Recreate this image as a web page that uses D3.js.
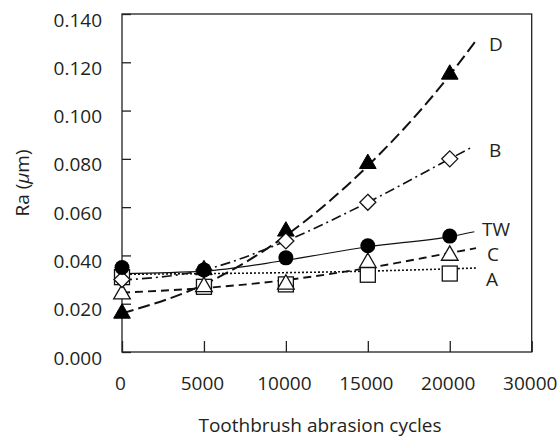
<!DOCTYPE html>
<html>
<head>
<meta charset="utf-8">
<script src="https://cdn.jsdelivr.net/npm/d3@7"></script>
<style>
  html, body { margin: 0; padding: 0; background: #fff; }
  svg { display: block; }
  text { font-family: "Open Sans", "Noto Sans", sans-serif; fill: #231f20; }
</style>
</head>
<body>
<svg id="chart" width="559" height="438"></svg>
<script>
// ---- data ----
const xTickValues = [0, 5000, 10000, 15000, 20000, 25000];
const xTickLabels = ["0", "5000", "10000", "15000", "20000", "30000"];
const yTickValues = [0, 0.02, 0.04, 0.06, 0.08, 0.10, 0.12, 0.14];
const yTickLabels = ["0.000", "0.020", "0.040", "0.060", "0.080", "0.100", "0.120", "0.140"];

const cycles = [0, 5000, 10000, 15000, 20000];
const seriesTW = [0.035, 0.034, 0.039, 0.044, 0.048];
const seriesA  = [0.031, 0.027, 0.028, 0.032, 0.0325];
const seriesB  = [0.030, 0.034, 0.046, 0.062, 0.080];
const seriesC  = [0.024, 0.027, 0.028, 0.037, 0.040];
const seriesD  = [0.016, 0.034, 0.050, 0.078, 0.115];

// trend curves: [cycles, Ra]
const trendTW = [[0, 0.0325], [5000, 0.0335], [10000, 0.0380], [15000, 0.0436], [20000, 0.0478], [21500, 0.0498]];
const trendA  = [[0, 0.0322], [15000, 0.0335], [21700, 0.0348]];
const trendB  = [[0, 0.0298], [5000, 0.0340], [10000, 0.0460], [15000, 0.0620], [20000, 0.0800], [21400, 0.0850]];
const trendC  = [[0, 0.0246], [5000, 0.0265], [10000, 0.0298], [15000, 0.0348], [20000, 0.0410], [21600, 0.0430]];
const trendD  = [[0, 0.0160], [5000, 0.0280], [10000, 0.0482], [15000, 0.0771], [20000, 0.1147], [21600, 0.1290]];

const labels = [
  { name: "D",  at: [0.1275], x: 489 },
  { name: "B",  at: [0.0835], x: 489 },
  { name: "TW", at: [0.0508], x: 482 },
  { name: "C",  at: [0.0405], x: 487 },
  { name: "A",  at: [0.0300], x: 486 }
];

// ---- layout ----
const svg = d3.select("#chart");
const x = d3.scaleLinear().domain([0, 25000]).range([122, 531.7]);
const y = d3.scaleLinear().domain([0, 0.14]).range([352, 14]);
const ink = "#231f20";
const fs = "19px";

// trend lines
const line = d3.line().x(d => x(d[0])).y(d => y(d[1])).curve(d3.curveMonotoneX);
const trends = [
  { data: trendA,  dash: "2,2",          w: 1.6 },
  { data: trendC,  dash: "8,5",          w: 1.9 },
  { data: trendB,  dash: "10,4,2,4",     w: 1.6 },
  { data: trendD,  dash: "12,5",         w: 2.0 },
  { data: trendTW, dash: null,           w: 1.2 }
];
trends.forEach(t => {
  svg.append("path")
    .attr("d", line(t.data))
    .attr("fill", "none")
    .attr("stroke", "#111")
    .attr("stroke-width", t.w)
    .attr("stroke-dasharray", t.dash);
});

// frame
svg.append("rect")
  .attr("x", x(0)).attr("y", y(0.14))
  .attr("width", x(25000) - x(0)).attr("height", y(0) - y(0.14))
  .attr("fill", "none").attr("stroke", ink).attr("stroke-width", 1.3);

// y axis (ticks inward)
const yAxis = d3.axisRight(y).tickValues(yTickValues).tickSize(9)
  .tickFormat((d, i) => yTickLabels[i]);
const gy = svg.append("g").attr("transform", `translate(${x(0)},0)`).call(yAxis);
gy.select(".domain").remove();
gy.selectAll(".tick line").attr("stroke", ink).attr("stroke-width", 1.3);
gy.selectAll(".tick text")
  .attr("x", -20).attr("dy", "12px").attr("text-anchor", "end")
  .style("font-size", fs).style("fill", ink);

// x axis (ticks inward)
const xAxis = d3.axisTop(x).tickValues(xTickValues).tickSize(11)
  .tickFormat((d, i) => xTickLabels[i]);
const gx = svg.append("g").attr("transform", `translate(0,${y(0)})`).call(xAxis);
gx.select(".domain").remove();
gx.selectAll(".tick line").attr("stroke", ink).attr("stroke-width", 1.3);
gx.selectAll(".tick text")
  .attr("x", -2).attr("y", 38).attr("dy", 0).attr("text-anchor", "middle")
  .style("font-size", fs).style("fill", ink);

// markers
const pts = arr => cycles.map((c, i) => [c, arr[i]]);
// A: open squares
svg.append("g").selectAll("rect").data(pts(seriesA)).join("rect")
  .attr("x", d => x(d[0]) - 7.5).attr("y", d => y(d[1]) - 7.5)
  .attr("width", 15).attr("height", 15)
  .attr("fill", "#fff").attr("stroke", "#111").attr("stroke-width", 1.3);
// C: open triangles
const tri = d3.symbol().type(d3.symbolTriangle).size(120);
svg.append("g").selectAll("path").data(pts(seriesC)).join("path")
  .attr("d", tri)
  .attr("transform", d => `translate(${x(d[0])},${y(d[1])})`)
  .attr("fill", "#fff").attr("stroke", "#111").attr("stroke-width", 1.3);
// D: filled triangles
svg.append("g").selectAll("path").data(pts(seriesD)).join("path")
  .attr("d", tri)
  .attr("transform", d => `translate(${x(d[0])},${y(d[1])})`)
  .attr("fill", "#000").attr("stroke", "#000").attr("stroke-width", 1);
// B: open diamonds
svg.append("g").selectAll("path").data(pts(seriesB)).join("path")
  .attr("d", d => {
    const cx = x(d[0]), cy = y(d[1]), r = 8;
    return `M${cx},${cy - r}L${cx + r},${cy}L${cx},${cy + r}L${cx - r},${cy}Z`;
  })
  .attr("fill", "#fff").attr("stroke", "#111").attr("stroke-width", 1.3);
// TW: filled circles
svg.append("g").selectAll("circle").data(pts(seriesTW)).join("circle")
  .attr("cx", d => x(d[0])).attr("cy", d => y(d[1])).attr("r", 7.5)
  .attr("fill", "#000");

// series labels
svg.append("g").selectAll("text").data(labels).join("text")
  .attr("x", d => d.x).attr("y", d => y(d.at[0]))
  .attr("dy", "0.35em")
  .style("font-size", fs).style("fill", ink)
  .text(d => d.name);

// axis titles
svg.append("text")
  .attr("x", 320).attr("y", 432).attr("text-anchor", "middle")
  .style("font-size", fs)
  .text("Toothbrush abrasion cycles");

const yt = svg.append("text")
  .attr("transform", `translate(29,183) rotate(-90)`)
  .attr("text-anchor", "middle")
  .style("font-size", fs);
yt.append("tspan").text("Ra (");
yt.append("tspan").style("font-style", "italic").text("\u03bc");
yt.append("tspan").text("m)");
</script>
</body>
</html>
